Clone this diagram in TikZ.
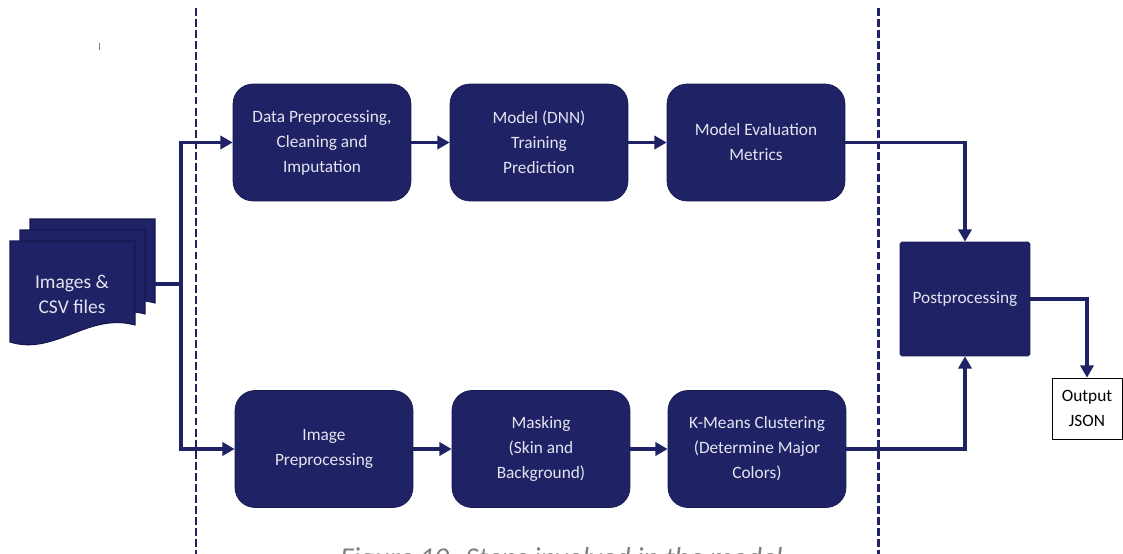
\documentclass[tikz,border=0pt]{standalone}
\usepackage{fontspec}
\setmainfont{Carlito}
\usepackage{tikz}
\usetikzlibrary{arrows.meta,positioning,calc}
\definecolor{navy}{RGB}{32,34,102}
\definecolor{navyline}{RGB}{22,24,80}
\definecolor{boxtext}{RGB}{228,228,238}
\definecolor{captiongray}{RGB}{128,128,128}
\tikzset{
  stepbox/.style={rectangle,rounded corners=0.4cm,fill=navy,draw=navyline,
    minimum width=3.56cm,minimum height=2.34cm,inner sep=0pt,align=center,
    text=boxtext,font=\fontsize{9.85}{14.2}\selectfont},
  postbox/.style={stepbox,rounded corners=1pt,minimum width=2.6cm,minimum height=2.28cm},
  outbox/.style={rectangle,draw=black,thin,fill=white,minimum width=1.4cm,
    minimum height=1.22cm,inner sep=0pt,align=center,
    font=\fontsize{9.85}{14.2}\selectfont},
  flow/.style={draw=navy,line width=2pt,-{Triangle[length=7pt,width=7.5pt]}},
  link/.style={draw=navy,line width=2pt},
  divider/.style={draw=navy,line width=1.7pt,dash pattern=on 4.5pt off 1.8pt},
  sheet/.style={fill=navy,draw=navyline,line width=0.6pt}
}
\begin{document}
\begin{tikzpicture}[x=0.02cm,y=-0.02cm]
  \useasboundingbox (0,0) rectangle (1123,554);
  % section dividers
  \draw[divider] (196,8) -- (196,560);
  \draw[divider] (878,8) -- (878,560);
  \draw[captiongray,thin] (99,43) -- (99,50);
  % stack of input files (back sheet first)
  \foreach \dx/\dy in {20/-22,10/-11,0/0}{
    \draw[sheet,shift={(\dx,\dy)}] (10,241) -- (135,241) -- (135,325)
      .. controls (88,312) and (55,356) .. (10,342) -- cycle;
  }
  \node[text=boxtext,align=center,font=\fontsize{11.1}{14.2}\selectfont] (files) at (72,294) {Images \&\\CSV files};
  \coordinate (filesout) at (155,284);
  \coordinate (split) at (181,284);
  % upper branch
  \node[stepbox] (prep) at (322,142.5) {Data Preprocessing,\\Cleaning and\\Imputation};
  \node[stepbox] (train) at (539,142.5) {Model (DNN)\\Training\\Prediction};
  \node[stepbox] (evalm) at (756,142.5) {Model Evaluation\\Metrics};
  % lower branch
  \node[stepbox] (imgprep) at (324,449) {Image\\Preprocessing};
  \node[stepbox] (mask) at (541,449) {Masking\\(Skin and\\Background)};
  \node[stepbox] (kmeans) at (757,449) {K-Means Clustering\\(Determine Major\\Colors)};
  % merge and output
  \node[postbox] (post) at (965,299) {Postprocessing};
  \node[outbox] (out) at (1087,408.5) {Output\\JSON};
  % connectors
  \draw[link] (filesout) -- (split);
  \draw[flow] (split) |- (prep.west);
  \draw[flow] (split) |- (imgprep.west);
  \draw[flow] (prep) -- (train);
  \draw[flow] (train) -- (evalm);
  \draw[flow] (imgprep) -- (mask);
  \draw[flow] (mask) -- (kmeans);
  \draw[flow] (evalm.east) -| (post.north);
  \draw[flow] (kmeans.east) -| (post.south);
  \draw[flow] (post.east) -| (out.north);
  % caption (cut off by the page edge)
  \node[anchor=base west,inner sep=0pt,text=captiongray,font=\fontsize{16.4}{19}\selectfont\itshape] (caption) at (340,567) {Figure 10: Steps involved in the model};
\end{tikzpicture}
\end{document}
